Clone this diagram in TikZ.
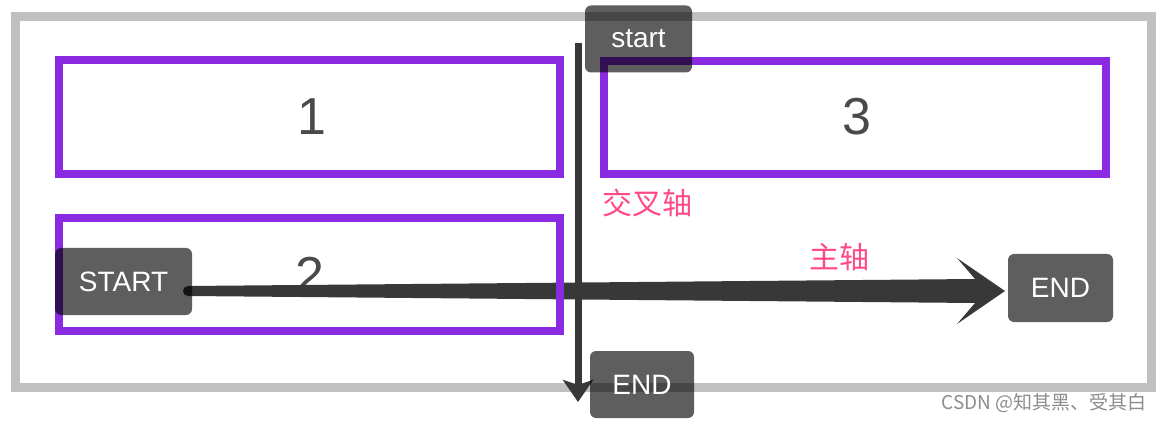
\documentclass[tikz,border=0pt]{standalone}
\usepackage{fontspec}
\setmainfont{Liberation Sans}
\newfontfamily\cjk{Noto Sans CJK SC}
\usetikzlibrary{arrows.meta,calc}
\definecolor{framec}{HTML}{C0C0C0}
\definecolor{purp}{HTML}{8A2BE2}
\definecolor{pinkc}{HTML}{FF4A86}
\definecolor{arr}{HTML}{383838}
\definecolor{digit}{HTML}{4A4A4A}
\definecolor{wm}{HTML}{8C8C8C}
\begin{document}
\begin{tikzpicture}[x=1pt,y=-1pt,
 box/.style={fill=black,fill opacity=0.63,text opacity=1,text=white,rounded corners=6pt,inner sep=0pt,font=\fontsize{28}{28}\selectfont},
 area/.style={draw=purp,line width=8.5pt},
 num/.style={text=digit,font=\fontsize{52}{52}\selectfont},
 axislabel/.style={text=pinkc,font=\cjk\fontsize{30}{30}\selectfont},
 vline/.style={draw=arr,line width=7pt,-{Stealth[length=22pt,width=30pt,inset=5pt]}},
]
\useasboundingbox (0,0) rectangle (1162,422);
% outer frame
\draw[framec,line width=9pt] (15,16.5) rectangle (1151,387);
% digits
\node[num] (n1) at (312,117) {1};
\node[num] (n3) at (857,117) {3};
\node[num] (n2) at (310,275) {2};
% main axis arrow (tapered)
\coordinate (hs) at (188,291);
\coordinate (hb) at (975,291);
\coordinate (he) at (1005,291);
\fill[arr] ($(hs)+(0,-5)$) -- ($(hb)+(0,-12)$) -- ($(hb)+(-18,-33)$) -- (he)
  -- ($(hb)+(-18,33)$) -- ($(hb)+(0,12)$) -- ($(hs)+(0,5)$) -- cycle;
\fill[arr] (hs) circle (5pt);
% purple areas
\draw[area] (59,60) rectangle (560,174);
\draw[area] (604,61) rectangle (1106,174);
\draw[area] (59,218) rectangle (560,331);
% cross axis arrow
\coordinate (vs) at (578,43);
\coordinate (ve) at (578,402);
\draw[vline] (vs) -- (ve);
% boxes
\node[box,minimum width=107pt,minimum height=67pt] (start) at (638.5,39) {start};
\node[box,minimum width=137pt,minimum height=67pt] (START) at (123.5,281.5) {START};
\node[box,minimum width=104pt,minimum height=67pt] (endb) at (642,384.5) {END};
\node[box,minimum width=105pt,minimum height=68pt] (endr) at (1060.5,288) {END};
% labels
\node[axislabel] (cross) at (647,203) {交叉轴};
\node[axislabel] (main) at (839,257) {主轴};
\node[text=wm,font=\cjk\fontsize{19}{19}\selectfont] (wmk) at (1044,403) {CSDN @知其黑、受其白};
\end{tikzpicture}
\end{document}
